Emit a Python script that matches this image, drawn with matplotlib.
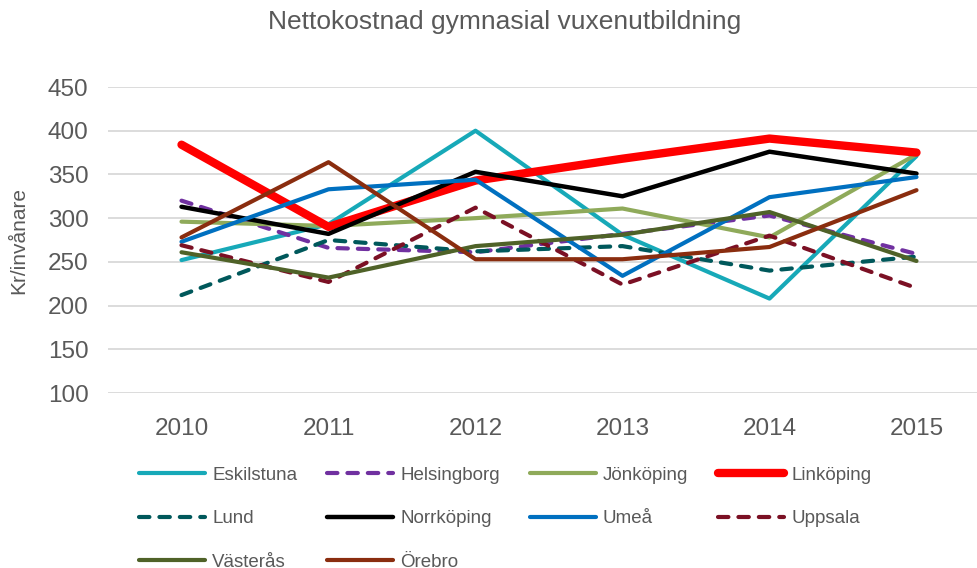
import matplotlib
matplotlib.use("Agg")
import matplotlib.pyplot as plt

plt.rcParams['font.family'] = ['Liberation Sans', 'DejaVu Sans']

years = ["2010", "2011", "2012", "2013", "2014", "2015"]

eskilstuna = [252, 293, 400, 281, 208, 371]
helsingborg = [320, 266, 261, 282, 303, 259]
jonkoping = [296, 291, 300, 311, 278, 373]
linkoping = [384, 290, 343, 368, 391, 375]
lund = [212, 275, 262, 268, 240, 256]
norrkoping = [313, 282, 353, 325, 376, 351]
umea = [273, 333, 344, 234, 324, 347]
uppsala = [269, 227, 312, 224, 280, 220]
vasteras = [261, 232, 268, 281, 307, 251]
orebro = [278, 364, 253, 253, 267, 332]

text_col = "#595959"

fig = plt.figure(figsize=(9.78, 5.68), dpi=100)
# plot area runs a bit past the right edge, like the original
ax = fig.add_axes([108 / 978, 1 - 393 / 568, 882 / 978, 306 / 568])

x = list(range(len(years)))
dash = (0, (2.5, 2.4))

series = [
    ("Eskilstuna", eskilstuna, "#17A9B8", 3.0, "-"),
    ("Helsingborg", helsingborg, "#7030A0", 3.0, dash),
    ("Jönköping", jonkoping, "#8FAA5A", 3.0, "-"),
    ("Linköping", linkoping, "#FF0000", 6.0, "-"),
    ("Lund", lund, "#00585B", 3.0, dash),
    ("Norrköping", norrkoping, "#000000", 3.2, "-"),
    ("Umeå", umea, "#0070C0", 3.0, "-"),
    ("Uppsala", uppsala, "#7B1024", 3.0, dash),
    ("Västerås", vasteras, "#4F6228", 3.0, "-"),
    ("Örebro", orebro, "#8A2D0F", 3.0, "-"),
]

lines = []
for name, vals, col, lw, ls in series:
    ln, = ax.plot(x, vals, color=col, lw=lw, linestyle=ls, label=name,
                  solid_capstyle="round", dash_capstyle="round", solid_joinstyle="round")
    lines.append(ln)

ax.set_xlim(-0.5, 5.5)
ax.set_ylim(100, 450)
ax.set_yticks(range(100, 451, 50))
ax.set_xticks(x)
ax.set_xticklabels(years)
ax.grid(axis="y", color="#D9D9D9", lw=1.3)
ax.set_axisbelow(True)
for s in ax.spines.values():
    s.set_visible(False)
ax.tick_params(length=0, labelsize=17.5, labelcolor=text_col)
ax.tick_params(axis="y", pad=14)
ax.tick_params(axis="x", pad=18)
ax.set_ylabel("Kr/invånare", fontsize=15, color=text_col, labelpad=14)

fig.text(505 / 978, 1 - 22 / 568, "Nettokostnad gymnasial vuxenutbildning",
         ha="center", va="center", fontsize=19, color=text_col)

# legend filled row by row, 4 per row
order = [0, 4, 8, 1, 5, 9, 2, 6, 3, 7]
leg = ax.legend([lines[i] for i in order], [series[i][0] for i in order],
                loc="upper left", bbox_to_anchor=(122 / 978, 1 - 450 / 568),
                bbox_transform=fig.transFigure, ncol=4, frameon=False,
                fontsize=13.5, handlelength=3.5, handletextpad=0.4,
                columnspacing=1.6, labelspacing=1.4, labelcolor=text_col)

fig.savefig("out.png", dpi=100)
